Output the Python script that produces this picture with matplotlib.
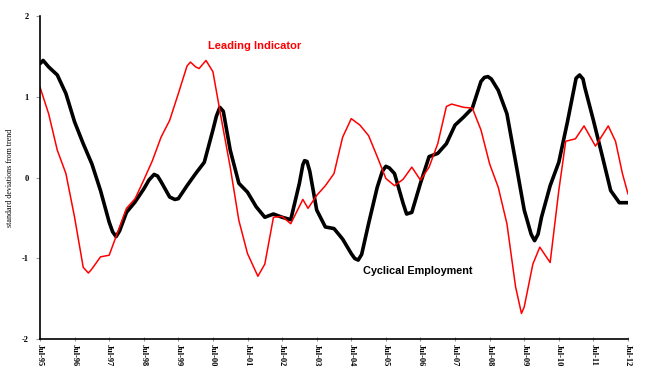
import matplotlib
matplotlib.use("Agg")
import matplotlib.pyplot as plt
import numpy as np

# years since Jul-95 and standard deviations from trend
emp_t = [0.0, 0.09, 0.25, 0.5, 0.75, 1.0, 1.25, 1.5, 1.75, 2.0, 2.1, 2.2, 2.3, 2.5, 2.75,
         3.0, 3.15, 3.3, 3.4, 3.5, 3.75, 3.9, 4.0, 4.25, 4.5, 4.75, 5.0, 5.1, 5.2, 5.3,
         5.5, 5.75, 6.0, 6.25, 6.5, 6.75, 7.0, 7.25, 7.5, 7.6, 7.65, 7.72, 7.8, 8.0, 8.25,
         8.5, 8.75, 9.0, 9.1, 9.2, 9.3, 9.5, 9.75, 9.9, 10.0, 10.1, 10.25, 10.5, 10.6,
         10.75, 11.0, 11.25, 11.5, 11.75, 12.0, 12.25, 12.5, 12.75, 12.85, 12.95, 13.05,
         13.25, 13.5, 13.75, 14.0, 14.2, 14.3, 14.4, 14.5, 14.75, 15.0, 15.25, 15.5, 15.6,
         15.7, 15.75, 16.0, 16.25, 16.5, 16.75, 17.0]
emp_v = [1.41, 1.45, 1.37, 1.27, 1.04, 0.69, 0.42, 0.17, -0.16, -0.55, -0.67, -0.73, -0.66,
         -0.43, -0.30, -0.14, -0.03, 0.04, 0.02, -0.05, -0.24, -0.27, -0.26, -0.10, 0.05,
         0.19, 0.59, 0.76, 0.87, 0.82, 0.34, -0.07, -0.18, -0.36, -0.49, -0.45, -0.49,
         -0.52, -0.07, 0.16, 0.21, 0.20, 0.08, -0.40, -0.61, -0.63, -0.76, -0.94, -1.00,
         -1.02, -0.95, -0.57, -0.12, 0.08, 0.14, 0.12, 0.05, -0.32, -0.45, -0.43, -0.07,
         0.26, 0.30, 0.42, 0.65, 0.75, 0.86, 1.19, 1.24, 1.25, 1.22, 1.08, 0.79, 0.20,
         -0.40, -0.70, -0.78, -0.70, -0.49, -0.10, 0.19, 0.69, 1.23, 1.27, 1.22, 1.12,
         0.71, 0.28, -0.16, -0.31, -0.31]

lead_t = [0.0, 0.25, 0.5, 0.75, 1.0, 1.25, 1.4, 1.5, 1.75, 2.0, 2.25, 2.5, 2.75, 3.0, 3.25,
          3.5, 3.75, 4.0, 4.25, 4.35, 4.5, 4.6, 4.8, 5.0, 5.25, 5.5, 5.75, 6.0, 6.3, 6.5,
          6.75, 7.0, 7.25, 7.6, 7.75, 8.0, 8.25, 8.5, 8.75, 9.0, 9.25, 9.5, 9.75, 10.0,
          10.25, 10.5, 10.75, 11.0, 11.25, 11.5, 11.75, 11.9, 12.25, 12.5, 12.75, 13.0,
          13.25, 13.5, 13.75, 13.92, 14.0, 14.25, 14.45, 14.75, 15.0, 15.2, 15.48, 15.73,
          16.06, 16.43, 16.64, 16.84, 17.0]
lead_v = [1.12, 0.79, 0.34, 0.05, -0.49, -1.11, -1.18, -1.13, -0.98, -0.96, -0.67, -0.38,
          -0.26, -0.03, 0.21, 0.50, 0.71, 1.04, 1.38, 1.43, 1.37, 1.35, 1.45, 1.31, 0.71,
          0.13, -0.53, -0.94, -1.22, -1.07, -0.49, -0.48, -0.57, -0.27, -0.38, -0.22, -0.10,
          0.05, 0.50, 0.73, 0.65, 0.52, 0.26, -0.01, -0.10, -0.02, 0.13, -0.03, 0.13, 0.42,
          0.88, 0.91, 0.87, 0.86, 0.59, 0.17, -0.12, -0.57, -1.35, -1.68, -1.60, -1.07,
          -0.86, -1.05, -0.16, 0.45, 0.48, 0.64, 0.39, 0.64, 0.45, 0.05, -0.20]

tick_years = list(range(1995, 2013))
tick_labels = ["Jul-%02d" % (y % 100) for y in tick_years]

start = 1995.5
fig = plt.figure(figsize=(6.45, 3.78), dpi=100)
ax = fig.add_axes([0.062, 0.1024, 0.9116, 0.8553])

ax.plot(start + np.array(emp_t), emp_v, color="black", lw=2.6,
        solid_capstyle="round", solid_joinstyle="round")
ax.plot(start + np.array(lead_t), lead_v, color="#ff0000", lw=1.1,
        solid_joinstyle="round")

ax.set_xlim(start, 2012.5)
ax.set_ylim(-2, 2)
ax.set_yticks([-2, -1, 0, 1, 2])
ax.set_yticklabels(["-2", "-1", "0", "1", "2"], fontfamily="Liberation Serif",
                   fontweight="bold", fontsize=6)
ax.set_xticks([y + 0.5 for y in tick_years])
ax.set_xticklabels(tick_labels, rotation=-90, fontfamily="Liberation Serif",
                   fontweight="bold", fontsize=6)
ax.tick_params(axis="y", length=3, width=0.8, color="#999999", pad=5)
ax.tick_params(axis="x", length=3, width=0.8, color="#999999", direction="inout", pad=2)

for s in ["top", "right"]:
    ax.spines[s].set_visible(False)
for s in ["left", "bottom"]:
    ax.spines[s].set_linewidth(1.2)

ax.set_ylabel("standard deviations from trend", fontfamily="Liberation Serif",
              fontsize=5.8, labelpad=6)

ax.text(2000.36, 1.63, "Leading Indicator", color="#ff0000", fontweight="bold",
        fontfamily="Liberation Sans", fontsize=8, va="center", ha="left")
ax.text(2004.85, -1.16, "Cyclical Employment", color="black", fontweight="bold",
        fontfamily="Liberation Sans", fontsize=7.8, va="center", ha="left")

fig.savefig("out.png", dpi=100)
